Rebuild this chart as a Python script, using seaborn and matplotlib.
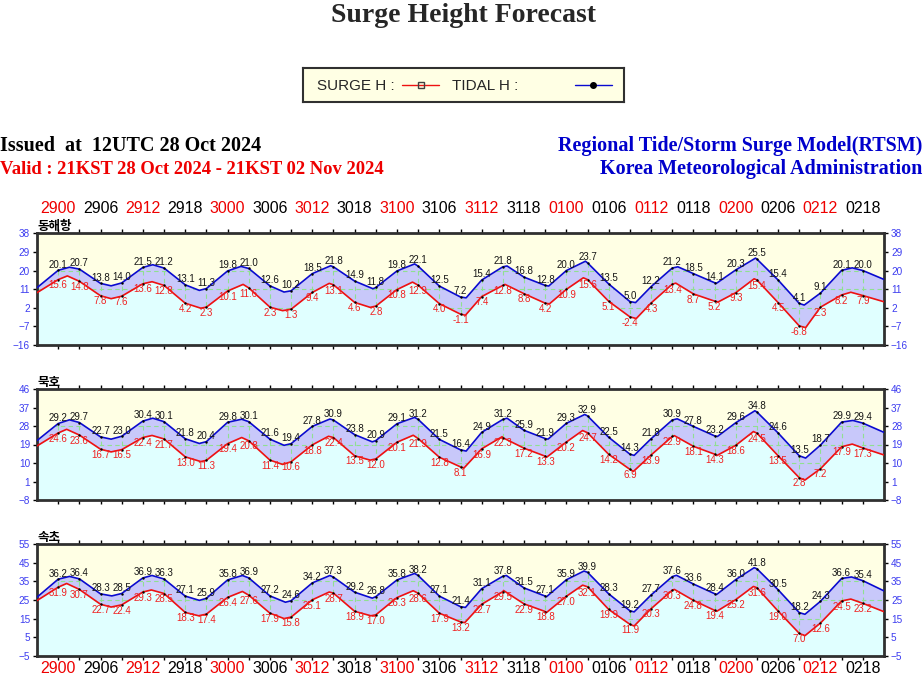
import pandas as pd
import matplotlib
matplotlib.use('Agg')
import matplotlib.pyplot as plt
import seaborn as sns

# 시간축: 28일 21KST = 0h, 3시간 간격 출력
HOURS = [3, 6, 9, 12, 15, 18, 21, 24, 27, 30, 33, 36, 39, 42, 45, 48, 51, 54, 57, 60,
         63, 66, 69, 72, 75, 78, 81, 84, 87, 90, 93, 96, 99, 102, 105, 108, 111, 114, 117]
TICK_HOURS = [3, 9, 15, 21, 27, 33, 39, 45, 51, 57, 63, 69, 75, 81, 87, 93, 99, 105, 111, 117]
TICK_LABELS = ['2900', '2906', '2912', '2918', '3000', '3006', '3012', '3018', '3100', '3106',
               '3112', '3118', '0100', '0106', '0112', '0118', '0200', '0206', '0212', '0218']

STATIONS = ['동해항', '묵호', '속초']

# 동해항 - 3시간 간격 값 (파랑: 위 곡선, 빨강: 아래 곡선)
DH_BLUE = [20.1, 20.7, 13.8, 14.0, 21.5, 21.2, 13.1, 11.3, 19.8, 21.0, 12.6, 10.2, 18.5, 21.8,
           14.9, 11.8, 19.8, 22.1, 12.5, 7.2, 15.4, 21.8, 16.8, 12.8, 20.0, 23.7, 13.5, 5.0,
           12.2, 21.2, 18.5, 14.1, 20.3, 25.5, 15.4, 4.1, 9.1, 20.1, 20.0]
DH_RED = [15.6, 14.8, 7.8, 7.6, 13.6, 12.8, 4.2, 2.3, 10.1, 11.6, 2.3, 1.3, 9.4, 13.1,
          4.6, 2.8, 10.8, 12.9, 4.0, -1.1, 7.4, 12.8, 8.8, 4.2, 10.9, 15.6, 5.1, -2.4,
          4.3, 13.4, 8.7, 5.2, 9.3, 15.4, 4.5, -6.8, 2.3, 8.2, 7.9]
# 그림에서 읽은 시작/끝, 고조/저조 지점
DH_BLUE_EXT_T = [0, 4.6, 10.5, 16.4, 23, 28.9, 35, 41.6, 47.6, 53.5, 60.8, 66.6, 72.5, 77.7,
                 84.8, 90.8, 96.3, 101.8, 108.7, 115.5, 120]
DH_BLUE_EXT_V = [11.7, 21.6, 12.6, 22.8, 10.4, 22.0, 9.6, 22.3, 11.2, 23.2, 6.8, 22.2, 12.5, 24.5,
                 4.5, 21.8, 13.9, 26.0, 3.3, 21.3, 15.7]
DH_RED_EXT_T = [0, 4.3, 10.5, 16.3, 23.2, 29.2, 34.8, 41.4, 47.2, 53.2, 60.7, 66.3, 72.6, 77.4,
                84.9, 90.5, 96.5, 101.6, 108.9, 115.3, 120]
DH_RED_EXT_V = [9.3, 17.4, 6.4, 14.6, 1.8, 13.3, 0.6, 13.8, 2.2, 14.4, -1.6, 13.3, 3.9, 16.5,
                -3.2, 13.9, 4.8, 16.0, -7.6, 9.5, 4.9]

# 묵호
MH_BLUE = [29.2, 29.7, 22.7, 23.0, 30.4, 30.1, 21.8, 20.4, 29.8, 30.1, 21.6, 19.4, 27.8, 30.9,
           23.8, 20.9, 29.1, 31.2, 21.5, 16.4, 24.9, 31.2, 25.9, 21.9, 29.3, 32.9, 22.5, 14.3,
           21.8, 30.9, 27.8, 23.2, 29.6, 34.8, 24.6, 13.5, 18.7, 29.9, 29.4]
MH_RED = [24.6, 23.6, 16.7, 16.5, 22.4, 21.7, 13.0, 11.3, 19.4, 20.8, 11.4, 10.6, 18.8, 22.4,
          13.5, 12.0, 20.1, 21.9, 12.8, 8.1, 16.9, 22.3, 17.2, 13.3, 20.2, 24.7, 14.2, 6.9,
          13.9, 22.9, 18.1, 14.3, 18.6, 24.5, 13.5, 2.8, 7.2, 17.9, 17.3]
MH_BLUE_EXT_T = [0, 4.6, 10.5, 16.4, 23, 29, 35, 41.5, 47.5, 53.5, 60.8, 66.6, 72.4, 77.6,
                 84.6, 90.7, 96.4, 101.7, 108.9, 115.6, 120]
MH_BLUE_EXT_V = [20.9, 31.0, 21.6, 31.8, 19.5, 31.3, 18.6, 31.4, 20.3, 32.2, 15.8, 31.8, 21.6, 33.6,
                 13.7, 31.5, 22.9, 35.4, 12.4, 30.7, 24.9]
MH_RED_EXT_T = [0, 4.2, 10.5, 16.3, 23.2, 29, 34.8, 41.3, 47.2, 53.3, 60.5, 65.9, 72.2, 77.3,
                84.5, 90.3, 96.3, 101.5, 108.8, 115.5, 120]
MH_RED_EXT_V = [18.3, 26.4, 15.4, 23.4, 10.7, 22.4, 9.3, 23.0, 11.4, 23.5, 7.6, 22.8, 12.8, 25.8,
                5.9, 23.3, 13.6, 25.3, 1.7, 19.2, 13.9]

# 속초
SC_BLUE = [36.2, 36.4, 28.3, 28.5, 36.9, 36.3, 27.1, 25.9, 35.8, 36.9, 27.2, 24.6, 34.2, 37.3,
           29.2, 26.8, 35.8, 38.2, 27.1, 21.4, 31.1, 37.8, 31.5, 27.1, 35.9, 39.9, 28.3, 19.2,
           27.7, 37.6, 33.6, 28.4, 36.0, 41.8, 30.5, 18.2, 24.3, 36.6, 35.4]
SC_RED = [31.9, 30.7, 22.7, 22.4, 29.3, 28.5, 18.3, 17.4, 26.4, 27.6, 17.9, 15.8, 25.1, 28.7,
          18.9, 17.0, 26.3, 28.6, 17.9, 13.2, 22.7, 29.5, 22.9, 18.8, 27.0, 32.1, 19.9, 11.9,
          20.3, 30.3, 24.8, 19.4, 25.2, 31.6, 19.0, 7.0, 12.6, 24.5, 23.2]
SC_BLUE_EXT_T = [0, 4.6, 10.6, 16.3, 23, 29.1, 35.2, 41.5, 47.5, 53.5, 60.7, 66.5, 72.2, 77.5,
                 84.6, 90.6, 96.3, 101.6, 108.8, 115.4, 120]
SC_BLUE_EXT_V = [26.5, 37.7, 27.2, 38.2, 24.8, 38.2, 23.8, 38.2, 26.0, 39.3, 21.0, 38.2, 26.8, 40.6,
                 18.6, 38.3, 28.0, 42.4, 17.3, 37.4, 29.9]
SC_RED_EXT_T = [0, 4.2, 10.5, 16.2, 22.9, 29.1, 35, 41.4, 47.3, 53.3, 60.6, 66.1, 72.2, 77.3,
                84.6, 90.3, 96.3, 101.5, 108.8, 115.3, 120]
SC_RED_EXT_V = [24.7, 33.9, 21.2, 30.4, 16.5, 29.6, 15.0, 29.3, 16.5, 30.0, 12.8, 30.1, 18.3, 33.0,
                11.0, 30.7, 18.9, 32.3, 5.8, 25.5, 18.7]

# y축 범위 (최소, 최대, 간격)
Y_RANGES = [(-16, 38, 9), (-8, 46, 9), (-5, 55, 10)]

# 색상
BLUE = '#0a0ad0'
RED = '#ee1111'
YELLOW_BG = '#ffffe4'
BAND_BG = '#c8c8fa'
CYAN_BG = '#e0ffff'
GRID_C = '#90e090'
TICK_BLUE = '#3c3cf0'

sns.set_style('white')
plt.rcParams['font.family'] = ['Liberation Sans', 'DejaVu Sans']
SANS = ['Liberation Sans', 'DejaVu Sans']
SERIF = ['Liberation Serif', 'DejaVu Serif']


def make_series(labels, ext_t, ext_v):
    df = pd.DataFrame({'hour': HOURS + ext_t, 'value': labels + ext_v})
    return df.sort_values('hour').reset_index(drop=True)


def draw_panel(ax, name, yr, blue_lbl, blue_et, blue_ev, red_lbl, red_et, red_ev, top, bottom):
    lo, hi, step = yr
    blue = make_series(blue_lbl, blue_et, blue_ev)
    red = make_series(red_lbl, red_et, red_ev)

    # 위쪽 노랑, 사이 보라(배경), 아래쪽 하늘색
    ax.set_facecolor(BAND_BG)
    ax.fill_between(blue['hour'], blue['value'], hi, color=YELLOW_BG, lw=0, zorder=1)
    ax.fill_between(red['hour'], lo, red['value'], color=CYAN_BG, lw=0, zorder=1)

    sns.lineplot(data=blue, x='hour', y='value', ax=ax, color=BLUE, lw=1.2, zorder=3)
    sns.lineplot(data=red, x='hour', y='value', ax=ax, color=RED, lw=1.2, zorder=3)
    sns.scatterplot(x=HOURS, y=blue_lbl, ax=ax, color='black', s=3, lw=0, zorder=4)
    sns.scatterplot(x=HOURS, y=red_lbl, ax=ax, color='black', s=3, lw=0, zorder=4)

    for h, v in zip(HOURS, blue_lbl):
        ax.annotate(f'{v:.1f}', (h, v), xytext=(0, 0.5), textcoords='offset points',
                    ha='center', va='bottom', fontsize=7, color='#151515', family=SANS, zorder=5)
    for h, v in zip(HOURS, red_lbl):
        ax.annotate(f'{v:.1f}', (h, v), xytext=(0, -0.5), textcoords='offset points',
                    ha='center', va='top', fontsize=7, color='#f02020', family=SANS, zorder=5)

    ax.set_xlim(0, 120)
    ax.set_ylim(lo, hi)
    ax.set_xlabel('')
    ax.set_ylabel('')
    ax.set_xticks(TICK_HOURS)
    ax.set_xticks([h for h in HOURS if h not in TICK_HOURS], minor=True)
    ax.set_yticks(list(range(lo, hi + 1, step)))
    ax.grid(True, which='both', axis='x', color=GRID_C, ls=(0, (4, 3)), lw=0.8)
    ax.grid(True, which='major', axis='y', color=GRID_C, ls=(0, (4, 3)), lw=0.8)

    ax.tick_params(axis='x', which='both', direction='inout', length=6, width=1, color='black',
                   top=True, bottom=True, labeltop=top, labelbottom=bottom)
    ax.tick_params(axis='x', which='major', labelsize=11.5, pad=9.5 if top else 1)
    ax.tick_params(axis='y', direction='out', length=3, width=1, color='black', left=True, right=True,
                   labelleft=True, labelright=True, labelsize=7.2, labelcolor=TICK_BLUE, pad=2)
    if top or bottom:
        ax.set_xticklabels(TICK_LABELS)
        for tk, lab in zip(ax.xaxis.get_major_ticks(), TICK_LABELS):
            c = '#ee0000' if lab.endswith('00') or lab.endswith('12') else 'black'
            tk.label1.set_color(c)
            tk.label2.set_color(c)
    else:
        ax.set_xticklabels([])

    for sp in ax.spines.values():
        sp.set_visible(True)
        sp.set_color('#303030')
        sp.set_linewidth(2)

    ax.text(0, 1.0, name, transform=ax.transAxes, ha='left', va='bottom', fontsize=9,
            fontweight='bold', family=['Noto Sans CJK KR', 'DejaVu Sans'], color='black')


fig = plt.figure(figsize=(9.23, 6.77), dpi=100)
W, H = 923, 677
rects = [(233.3, 345), (389, 500), (544.3, 655.7)]
series = [
    (DH_BLUE, DH_BLUE_EXT_T, DH_BLUE_EXT_V, DH_RED, DH_RED_EXT_T, DH_RED_EXT_V),
    (MH_BLUE, MH_BLUE_EXT_T, MH_BLUE_EXT_V, MH_RED, MH_RED_EXT_T, MH_RED_EXT_V),
    (SC_BLUE, SC_BLUE_EXT_T, SC_BLUE_EXT_V, SC_RED, SC_RED_EXT_T, SC_RED_EXT_V),
]
for i, ((yt, yb), s) in enumerate(zip(rects, series)):
    ax = fig.add_axes([37 / W, 1 - yb / H, 847 / W, (yb - yt) / H])
    draw_panel(ax, STATIONS[i], Y_RANGES[i], *s, top=(i == 0), bottom=(i == 2))

# 제목
fig.text(464 / W, 1 - 3 / H, 'Surge Height Forecast', ha='center', va='top', fontsize=20,
         fontweight='bold', family=SERIF)
fig.text(0, 1 - 146 / H, 'Issued  at  12UTC 28 Oct 2024', ha='left', va='center', fontsize=14.5,
         fontweight='bold', family=SERIF, color='black')
fig.text(0, 1 - 169 / H, 'Valid : 21KST 28 Oct 2024 - 21KST 02 Nov 2024', ha='left', va='center',
         fontsize=13.4, fontweight='bold', family=SERIF, color='#ee0000')
fig.text(922 / W, 1 - 146 / H, 'Regional Tide/Storm Surge Model(RTSM)', ha='right', va='center',
         fontsize=14.5, fontweight='bold', family=SERIF, color='#0000cc')
fig.text(922 / W, 1 - 169 / H, 'Korea Meteorological Administration', ha='right', va='center',
         fontsize=14.5, fontweight='bold', family=SERIF, color='#0000cc')

# 범례 상자
lax = fig.add_axes([303 / W, 1 - 102 / H, 321 / W, 34 / H])
lax.set_facecolor(YELLOW_BG)
lax.set_xlim(0, 1)
lax.set_ylim(0, 1)
lax.set_xticks([])
lax.set_yticks([])
for sp in lax.spines.values():
    sp.set_visible(True)
    sp.set_color('#303030')
    sp.set_linewidth(1.5)
lax.text(0.044, 0.48, 'SURGE H :', ha='left', va='center', fontsize=11, family=SANS)
lax.plot([0.308, 0.424], [0.5, 0.5], color=RED, lw=1)
lax.plot([0.367], [0.5], marker='s', ms=5, mfc='none', mec='#404040', mew=1)
lax.text(0.464, 0.48, 'TIDAL H :', ha='left', va='center', fontsize=11, family=SANS)
lax.plot([0.847, 0.963], [0.5, 0.5], color=BLUE, lw=1)
lax.plot([0.903], [0.5], marker='o', ms=4, color='black')

fig.savefig('out.png', dpi=100)
